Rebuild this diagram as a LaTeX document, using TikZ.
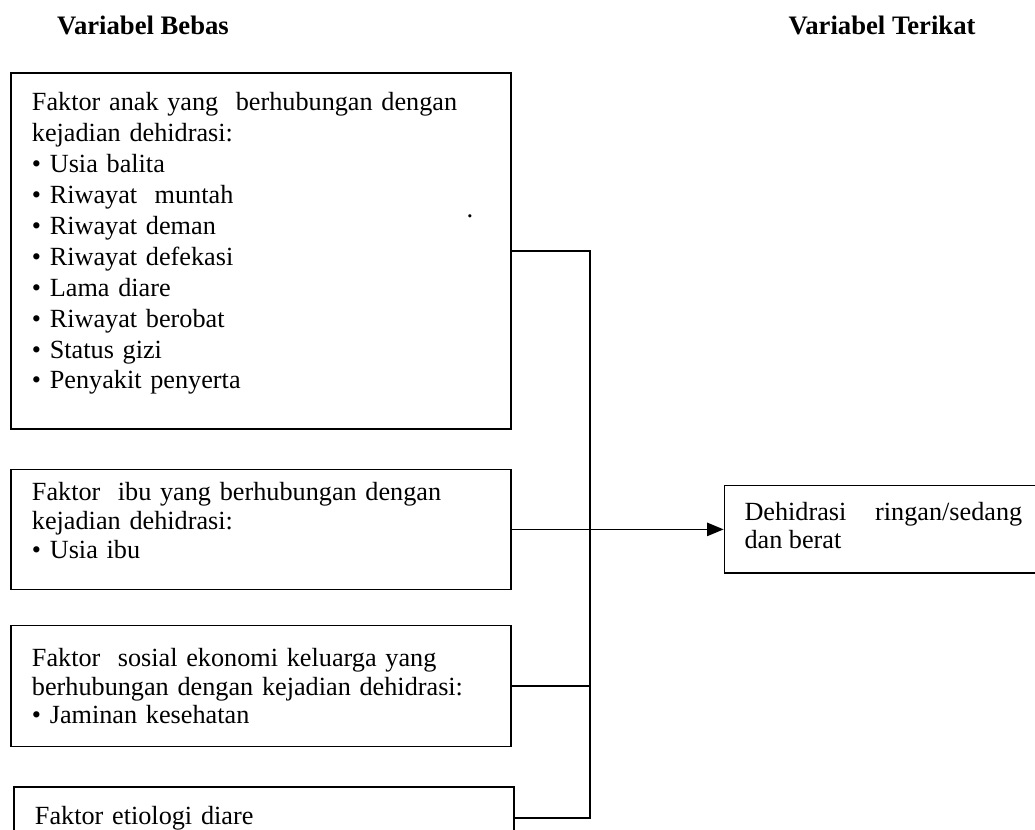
\documentclass[tikz,border=0pt]{standalone}
\usepackage{fontspec}
\setmainfont{Liberation Serif}
\usetikzlibrary{arrows.meta, positioning}

\newcommand{\ekor}[1]{\rule[-#1]{0pt}{#1}}

\begin{document}
\begin{tikzpicture}[
  x=0.45pt, y=-0.45pt,
  judul/.style={font=\bfseries\fontsize{12}{14}\selectfont, inner sep=0pt},
  faktor/.style={draw, line width=0.75pt, inner xsep=9.5pt, inner ysep=0pt,
    text width=206pt, align=left, font=\fontsize{11.8}{13}\selectfont},
  hasil/.style={draw, line width=0.75pt, inner xsep=9pt, inner ysep=0pt,
    text width=125pt, align=justify, font=\fontsize{11.8}{12.6}\selectfont},
  jalur/.style={line width=0.75pt},
  panah/.style={-{Triangle[length=7.5pt, width=6pt]}, line width=0.75pt},
]
\useasboundingbox (0,0) rectangle (1035,830);

% Judul kolom
\node[judul] (bebas) at (143,25) {Variabel Bebas};
\node[judul] (terikat) at (882,25) {Variabel Terikat};

% Variabel bebas
\node[faktor, anchor=north west, minimum height=160.2pt,
  font=\fontsize{11.8}{13.9}\selectfont] (anak) at (10,72)
  {Faktor anak yang~ berhubungan dengan\\
   kejadian dehidrasi:\\
   \textbullet\ Usia balita\\
   \textbullet\ Riwayat~ muntah\\
   \textbullet\ Riwayat deman\\
   \textbullet\ Riwayat defekasi\\
   \textbullet\ Lama diare\\
   \textbullet\ Riwayat berobat\\
   \textbullet\ Status gizi\\
   \textbullet\ Penyakit penyerta\ekor{9pt}};
\node[font=\fontsize{12}{14}\selectfont, inner sep=0pt] (titik) at (470,216) {.};

\node[faktor, below=17.5pt of anak.south west, anchor=north west,
  minimum height=54pt] (ibu)
  {Faktor~ ibu yang berhubungan dengan\\
   kejadian dehidrasi:\\
   \textbullet\ Usia ibu\ekor{8pt}};

\node[faktor, below=15.5pt of ibu.south west, anchor=north west,
  minimum height=54.5pt] (sosial)
  {Faktor~ sosial ekonomi keluarga yang\\
   berhubungan dengan kejadian dehidrasi:\\
   \textbullet\ Jaminan kesehatan};

\node[faktor, below=17.5pt of sosial.south west, anchor=north west,
  xshift=1.35pt, minimum height=28pt] (etiologi)
  {Faktor etiologi diare};

% Variabel terikat
\node[hasil, right=95.4pt of ibu, minimum height=39.5pt] (dehidrasi)
  {Dehidrasi ringan/sedang dan berat\ekor{4pt}};

% Garis penghubung
\coordinate (sumbu) at (590,0);
\draw[jalur] (anak.east) -- (anak.east -| sumbu) -- (etiologi.east -| sumbu)
  -- (etiologi.east);
\draw[jalur] (sosial.east) -- (sosial.east -| sumbu);
\draw[panah] (ibu.east) -- (dehidrasi.west);

\end{tikzpicture}
\end{document}
